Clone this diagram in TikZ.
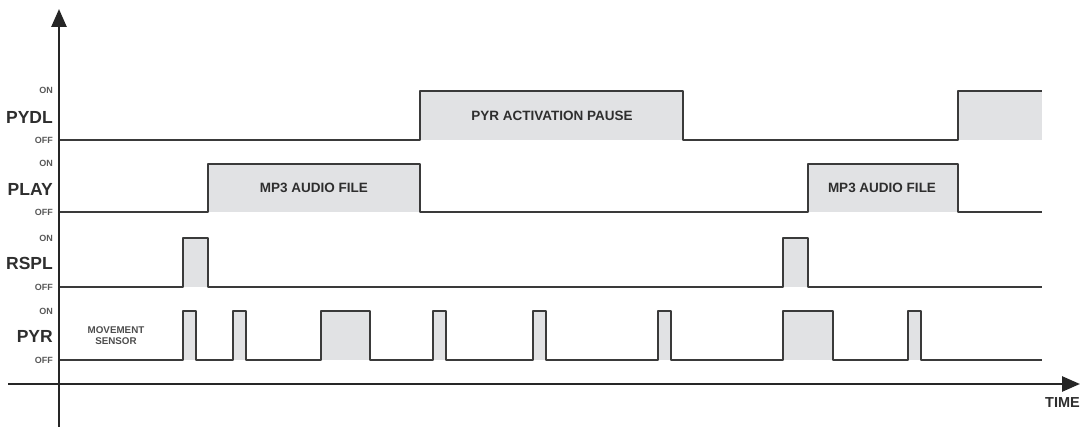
\documentclass[tikz,border=0pt]{standalone}
\usepackage{fontspec}
\setmainfont{Liberation Sans}
\usetikzlibrary{arrows.meta}
\definecolor{ink}{HTML}{3A3A3A}
\definecolor{txt}{HTML}{2E2E2E}
\definecolor{shade}{HTML}{E1E2E4}
\begin{document}
\begin{tikzpicture}[x=1pt,y=-1pt,
  sig/.style={draw=ink,line width=2.3pt,line join=round},
  hi/.style={fill=shade,draw=none},
  axis/.style={draw=black!85,line width=2.6pt,-{Triangle[width=15pt,length=18pt]}},
  signame/.style={font=\fontsize{17.5}{17.5}\selectfont\bfseries,text=txt,anchor=east,inner sep=0pt},
  lvl/.style={font=\fontsize{9}{9}\selectfont\bfseries,text=txt!80,anchor=east,inner sep=0pt},
  inlbl/.style={font=\fontsize{13.5}{13.5}\selectfont\bfseries,text=txt,inner sep=0pt},
  small/.style={font=\fontsize{9.8}{11}\selectfont\bfseries,text=txt!85,align=center,inner sep=0pt}]
\useasboundingbox (0,0) rectangle (1080,427);
% shaded areas
\fill[hi] (420,91) rectangle (683,140);
\fill[hi] (958,91) rectangle (1042,140);
\fill[hi] (208,164) rectangle (420,212);
\fill[hi] (808,164) rectangle (958,212);
\fill[hi] (183,238) rectangle (208,287);
\fill[hi] (783,238) rectangle (808,287);
\foreach \a/\b in {183/196,233/246,321/370,433/446,533/546,658/671,783/833,908/921}
  \fill[hi] (\a,311) rectangle (\b,360);
% signals
\draw[sig] (59,140) -- (420,140) -- (420,91) -- (683,91) -- (683,140) -- (958,140) -- (958,91) -- (1042,91);
\draw[sig] (59,212) -- (208,212) -- (208,164) -- (420,164) -- (420,212) -- (808,212) -- (808,164) -- (958,164) -- (958,212) -- (1042,212);
\draw[sig] (59,287) -- (183,287) -- (183,238) -- (208,238) -- (208,287) -- (783,287) -- (783,238) -- (808,238) -- (808,287) -- (1042,287);
\draw[sig] (59,360) -- (183,360) -- (183,311) -- (196,311) -- (196,360)
  -- (233,360) -- (233,311) -- (246,311) -- (246,360)
  -- (321,360) -- (321,311) -- (370,311) -- (370,360)
  -- (433,360) -- (433,311) -- (446,311) -- (446,360)
  -- (533,360) -- (533,311) -- (546,311) -- (546,360)
  -- (658,360) -- (658,311) -- (671,311) -- (671,360)
  -- (783,360) -- (783,311) -- (833,311) -- (833,360)
  -- (908,360) -- (908,311) -- (921,311) -- (921,360) -- (1042,360);
% axes
\coordinate (yb) at (59,427);
\coordinate (yt) at (59,9);
\coordinate (xl) at (8,384);
\coordinate (xr) at (1080,384);
\draw[axis] (yb) -- (yt);
\draw[axis] (xl) -- (xr);
% labels
\node[lvl] (on1) at (53,90) {ON};
\node[signame] (n1) at (53,117) {PYDL};
\node[lvl] (off1) at (53,140) {OFF};
\node[lvl] (on2) at (53,163) {ON};
\node[signame] (n2) at (53,189) {PLAY};
\node[lvl] (off2) at (53,212) {OFF};
\node[lvl] (on3) at (53,238) {ON};
\node[signame] (n3) at (53,263) {RSPL};
\node[lvl] (off3) at (53,287) {OFF};
\node[lvl] (on4) at (53,311) {ON};
\node[signame] (n4) at (53,336) {PYR};
\node[lvl] (off4) at (53,360) {OFF};
\node[small] (ms) at (116,336) {MOVEMENT\\SENSOR};
\node[inlbl] (pause) at (552,116) {PYR ACTIVATION PAUSE};
\node[inlbl] (mp3a) at (314,188) {MP3 AUDIO FILE};
\node[inlbl] (mp3b) at (882,188) {MP3 AUDIO FILE};
\node[signame,font=\fontsize{14.5}{14.5}\selectfont\bfseries] (time) at (1080,403) {TIME};
\end{tikzpicture}
\end{document}
